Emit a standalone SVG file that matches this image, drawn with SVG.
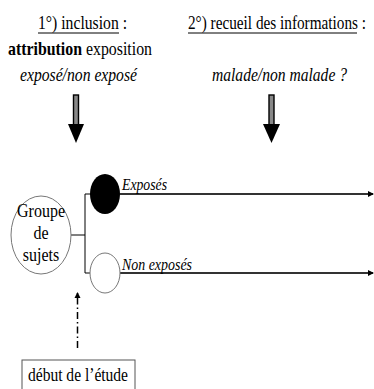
<svg xmlns="http://www.w3.org/2000/svg" width="374" height="389" viewBox="0 0 374 389">
<style>
text{font-family:"Liberation Serif","Times New Roman",serif;fill:#000}
.t{font-size:16px}
.it{font-style:italic}
.b{font-weight:bold}
.ln{stroke:#000;stroke-width:1;fill:none}
.arr{stroke:#333;stroke-width:1.8;fill:none}
.shaft{fill:#888;stroke:#000;stroke-width:1.4}
</style>
<defs>
<marker id="ah" markerWidth="6" markerHeight="6" refX="5" refY="3" orient="auto" markerUnits="userSpaceOnUse">
<path d="M0,0 L6,3 L0,6 Z" fill="#000"/>
</marker>
<marker id="ah2" markerWidth="6" markerHeight="8" refX="6" refY="4" orient="auto" markerUnits="userSpaceOnUse">
<path d="M0,1 L6,4 L0,7 Z" fill="#000"/>
</marker>
</defs>
<g id="header1">
<text class="t" transform="translate(38,29) scale(1,1.2)" textLength="89" lengthAdjust="spacingAndGlyphs">1°) inclusion :</text>
<line x1="38" y1="33" x2="119" y2="33" class="ln"/>
<text class="t" transform="translate(8,55) scale(1,1.2)" textLength="144" lengthAdjust="spacingAndGlyphs"><tspan class="b">attribution</tspan> exposition</text>
<text class="t it" transform="translate(20,81) scale(1,1.2)" textLength="117" lengthAdjust="spacingAndGlyphs">exposé/non exposé</text>
</g>
<g id="header2">
<text class="t" transform="translate(188,29) scale(1,1.2)" textLength="178" lengthAdjust="spacingAndGlyphs">2°) recueil des informations :</text>
<line x1="188" y1="33" x2="357" y2="33" class="ln"/>
<text class="t it" transform="translate(212,81) scale(1,1.2)" textLength="135" lengthAdjust="spacingAndGlyphs">malade/non malade ?</text>
</g>
<g id="arrow1">
<rect class="shaft" x="73.5" y="95" width="5" height="30"/>
<path d="M68,124 L84,124 L76,143 Z" fill="#000"/>
</g>
<g id="arrow2">
<rect class="shaft" x="269" y="95" width="5" height="30"/>
<path d="M263,124 L280,124 L271.5,143 Z" fill="#000"/>
</g>
<g id="connectors">
<line class="ln" x1="71" y1="235" x2="85" y2="235"/>
<line class="ln" x1="85" y1="194" x2="85" y2="273"/>
<line class="ln" x1="85" y1="194" x2="91" y2="194"/>
<line class="ln" x1="85" y1="273" x2="91" y2="273"/>
<line class="arr" x1="120" y1="194" x2="373" y2="194" marker-end="url(#ah)"/>
<line class="arr" x1="120" y1="273" x2="373" y2="273" marker-end="url(#ah)"/>
<line x1="77.5" y1="348" x2="77.5" y2="292" stroke="#000" stroke-width="1.5" stroke-dasharray="7 3 1.5 3" marker-end="url(#ah2)"/>
</g>
<g id="groupe">
<ellipse cx="41" cy="235" rx="30" ry="39" fill="#fff" stroke="#777" stroke-width="1"/>
<text font-size="16" text-anchor="middle" transform="translate(41,217) scale(1,1.15)">Groupe</text>
<text font-size="16" text-anchor="middle" transform="translate(41,239) scale(1,1.15)">de</text>
<text font-size="16" text-anchor="middle" transform="translate(41,261) scale(1,1.15)">sujets</text>
</g>
<g id="exposes">
<ellipse cx="105" cy="194" rx="15" ry="20" fill="#000"/>
<text class="it" font-size="14" transform="translate(122,190) scale(1,1.15)" textLength="45" lengthAdjust="spacingAndGlyphs">Exposés</text>
</g>
<g id="non-exposes">
<ellipse cx="105" cy="273" rx="15" ry="20" fill="#fff" stroke="#777" stroke-width="1"/>
<text class="it" font-size="14" transform="translate(122,270) scale(1,1.15)" textLength="70" lengthAdjust="spacingAndGlyphs">Non exposés</text>
</g>
<g id="debut">
<rect x="22" y="360" width="113" height="40" fill="none" stroke="#555" stroke-width="1"/>
<text font-size="15.5" transform="translate(28,381) scale(1,1.2)" textLength="100" lengthAdjust="spacingAndGlyphs">début de l’étude</text>
</g>
</svg>
